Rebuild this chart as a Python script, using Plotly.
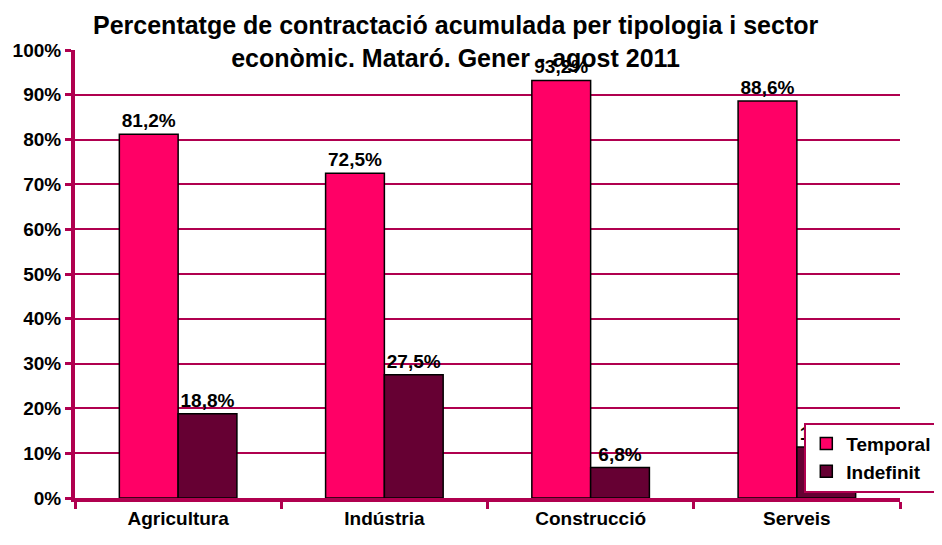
import plotly.graph_objects as go

sectors = ["Agricultura", "Indústria", "Construcció", "Serveis"]
temporal = [81.2, 72.5, 93.2, 88.6]
indefinit = [18.8, 27.5, 6.8, 11.4]
title_lines = [
    "Percentatge de contractació acumulada per tipologia i sector",
    "econòmic. Mataró. Gener - agost 2011",
]

AXIS = "#B0004F"
FONT = "Arial, Liberation Sans, sans-serif"


def pct(v):
    return f"{v:.1f}%".replace(".", ",")


fig = go.Figure()
fig.add_trace(go.Bar(
    x=sectors, y=[v / 100 for v in temporal], name="Temporal",
    marker=dict(color="#FF0066", line=dict(color="black", width=1.5)),
    text=[pct(v) for v in temporal], textposition="outside",
    textfont=dict(size=19, color="black", family=FONT, weight="bold"),
    cliponaxis=False,
))
fig.add_trace(go.Bar(
    x=sectors, y=[v / 100 for v in indefinit], name="Indefinit",
    marker=dict(color="#660033", line=dict(color="black", width=1.5)),
    text=[pct(v) for v in indefinit], textposition="outside",
    textfont=dict(size=19, color="black", family=FONT, weight="bold"),
    cliponaxis=False,
))

# page body has an 8px margin, so the figure is a bit smaller than the window
fig.update_layout(
    width=934, height=537,
    margin=dict(l=67, r=42, t=42, b=47, autoexpand=False),
    paper_bgcolor="white", plot_bgcolor="white",
    font=dict(family=FONT, size=19, color="black"),
    barmode="group", bargap=0.43, bargroupgap=0,
    showlegend=True,
    legend=dict(
        x=0.884, y=0.012, xanchor="left", yanchor="bottom",
        bgcolor="white", bordercolor=AXIS, borderwidth=2,
        font=dict(size=19, family=FONT, weight="bold"),
    ),
    annotations=[dict(
        text="<b>" + "<br>".join(title_lines) + "</b>",
        xref="paper", yref="paper", x=0.461, y=1.0915,
        xanchor="center", yanchor="top", showarrow=False,
        font=dict(size=25, family=FONT, color="black"),
    )],
)
fig.update_xaxes(
    showline=True, linecolor=AXIS, linewidth=4,
    ticks="outside", tickson="boundaries", ticklen=7, tickwidth=3, tickcolor=AXIS,
    tickfont=dict(size=19, family=FONT, weight="bold"),
    showgrid=False,
)
fig.update_yaxes(
    range=[0, 1], dtick=0.1, tickformat=".0%",
    showline=True, linecolor=AXIS, linewidth=4,
    ticks="outside", ticklen=6, tickwidth=3, tickcolor=AXIS,
    tickfont=dict(size=19, family=FONT, weight="bold"),
    showgrid=True, gridcolor=AXIS, gridwidth=2,
    zeroline=False,
)

fig.write_html("out.html")
